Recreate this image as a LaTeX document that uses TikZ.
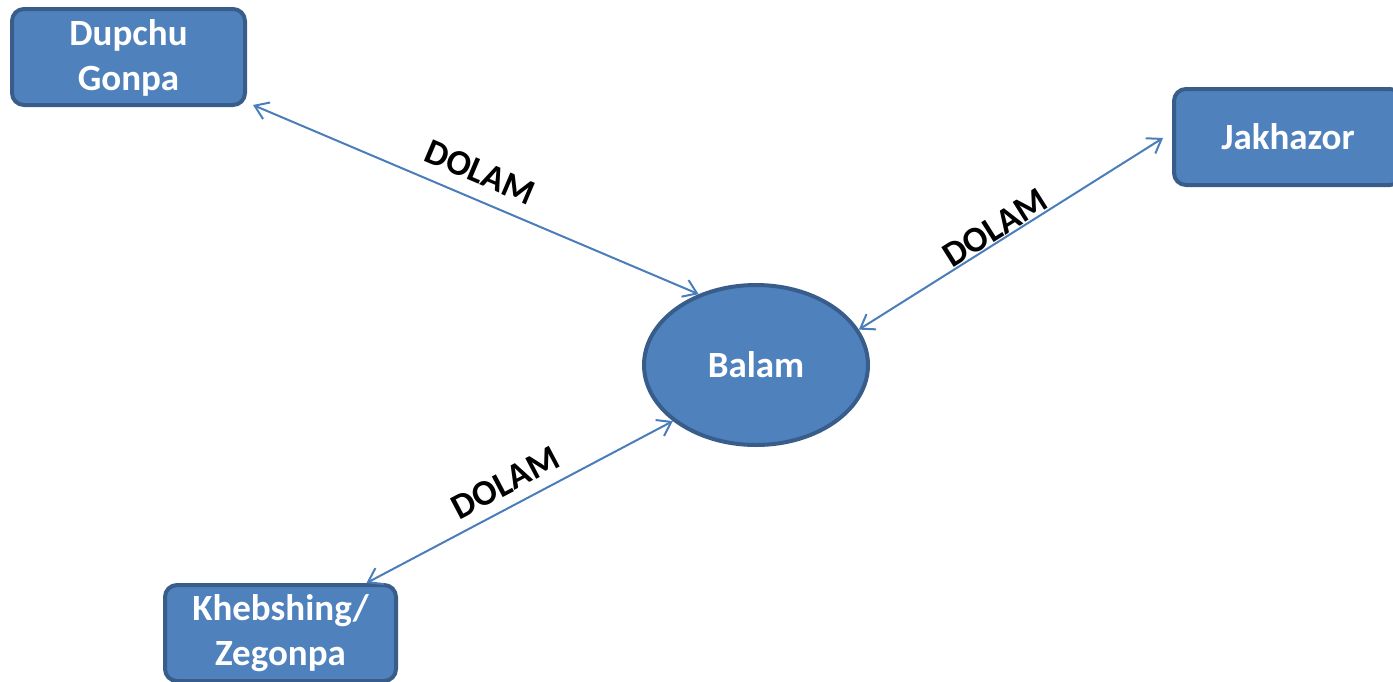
\documentclass[tikz,border=0pt]{standalone}
\usepackage{fontspec}
\setmainfont{Carlito}
\usetikzlibrary{arrows.meta,shapes.geometric}
\definecolor{boxfill}{HTML}{4F81BD}
\definecolor{boxline}{HTML}{385D8A}
\definecolor{connclr}{HTML}{4A7EBB}
\begin{document}
\begin{tikzpicture}[x=1pt,y=-1pt,
  place/.style={draw=boxline, fill=boxfill, line width=4pt, rounded corners=12pt,
    text=white, font=\bfseries\fontsize{37}{45}\selectfont, align=center, inner sep=0pt},
  hub/.style={ellipse, draw=boxline, fill=boxfill, line width=4pt,
    text=white, font=\bfseries\fontsize{37}{45}\selectfont, inner sep=0pt,
    minimum width=224pt, minimum height=160pt},
  link/.style={draw=connclr, line width=2pt,
    {Straight Barb[length=13pt,width=18pt]}-{Straight Barb[length=13pt,width=18pt]}},
  lbl/.style={sloped, anchor=base, inner sep=0pt, text=black,
    font=\bfseries\fontsize{36}{43}\selectfont}
]
\useasboundingbox (0,0) rectangle (1393,681);
\node[place, minimum width=233pt, minimum height=96pt, text depth=3pt] (dup) at (128.5,57) {Dupchu\\Gonpa};
\node[place, minimum width=228pt, minimum height=96pt] (jak) at (1288,137) {Jakhazor};
\node[place, minimum width=231pt, minimum height=96pt] (keb) at (280.5,633) {Khebshing/\\Zegonpa};
\node[hub] (bal) at (756,365) {Balam};

\draw[link] ([shift={(6,-2)}]dup.south east) -- node[lbl, pos=0.486, yshift=15pt] {DOLAM} (bal.129.6);
\draw[link] ([shift={(-9,1)}]jak.west) -- node[lbl, pos=0.528, yshift=2pt] {DOLAM} (bal.19.6);
\draw[link] ([shift={(86,0)}]keb.north) -- node[lbl, pos=0.49, yshift=12pt] {DOLAM} (bal.214.8);
\end{tikzpicture}
\end{document}
